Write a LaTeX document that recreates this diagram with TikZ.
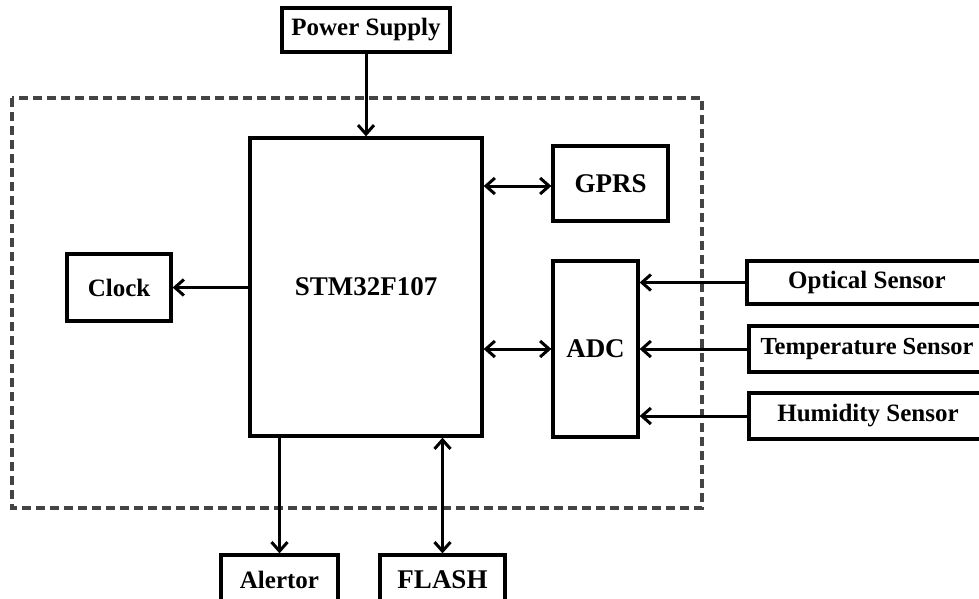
\documentclass[tikz,border=0pt]{standalone}
\usepackage{fontspec}
\setmainfont{Liberation Serif}
\usetikzlibrary{arrows.meta}
\definecolor{dashgray}{HTML}{444444}
\tikzset{
  blk/.style={draw=black, line width=3.3pt, fill=white, inner sep=0pt, font=\bfseries\fontsize{25}{30}\selectfont},
  bigtxt/.style={font=\bfseries\fontsize{27}{32}\selectfont},
  arr/.style={line width=3pt, -{Straight Barb[length=9pt,width=16pt,line width=3pt]}},
  darr/.style={line width=3pt, {Straight Barb[length=9pt,width=16pt,line width=3pt]}-{Straight Barb[length=9pt,width=16pt,line width=3pt]}},
  border/.style={draw=dashgray, line width=3.5pt, dash pattern=on 9pt off 5pt}
}
\begin{document}
\begin{tikzpicture}[x=1pt,y=-1pt]
\useasboundingbox (0,0) rectangle (979,599);
\draw[border] (12,98) rectangle (702,508);

\node[blk, minimum width=168pt, minimum height=44pt] (power) at (366,30) {Power Supply};
\node[blk, bigtxt, minimum width=232pt, minimum height=298pt] (stm) at (366,287) {STM32F107};
\node[blk, bigtxt, minimum width=115pt, minimum height=75pt] (gprs) at (610.5,183.5) {GPRS};
\node[blk, bigtxt, minimum width=85pt, minimum height=176pt] (adc) at (595.5,349) {ADC};
\node[blk, minimum width=104pt, minimum height=67pt] (clock) at (119,287.5) {Clock};
\node[blk, minimum width=240pt, minimum height=43pt] (opt) at (867,282.5) {Optical Sensor};
\node[blk, font=\bfseries\fontsize{24.5}{29}\selectfont, minimum width=236pt, minimum height=46pt] (temp) at (867,349) {Temperature Sensor};
\node[blk, minimum width=238pt, minimum height=46pt] (hum) at (868,416) {Humidity Sensor};
\node[blk, minimum width=117pt, minimum height=50pt] (alert) at (279.5,580) {Alertor};
\node[blk, bigtxt, minimum width=125pt, minimum height=50pt] (flash) at (442.5,580) {FLASH};

\draw[arr] (power.south) -- (stm.north);
\draw[arr] (stm.west |- clock.east) -- (clock.east);
\draw[darr] ([yshift=-2.5pt]stm.east |- gprs.west) -- ([yshift=-2.5pt]gprs.west);
\draw[darr] (stm.east |- adc.west) -- (adc.west);
\draw[arr] (opt.west) -- (adc.east |- opt.west);
\draw[arr] (temp.west) -- (adc.east |- temp.west);
\draw[arr] (hum.west) -- (adc.east |- hum.west);
\draw[arr] (stm.south -| alert.north) -- (alert.north);
\draw[darr] (stm.south -| flash.north) -- (flash.north);
\end{tikzpicture}
\end{document}
